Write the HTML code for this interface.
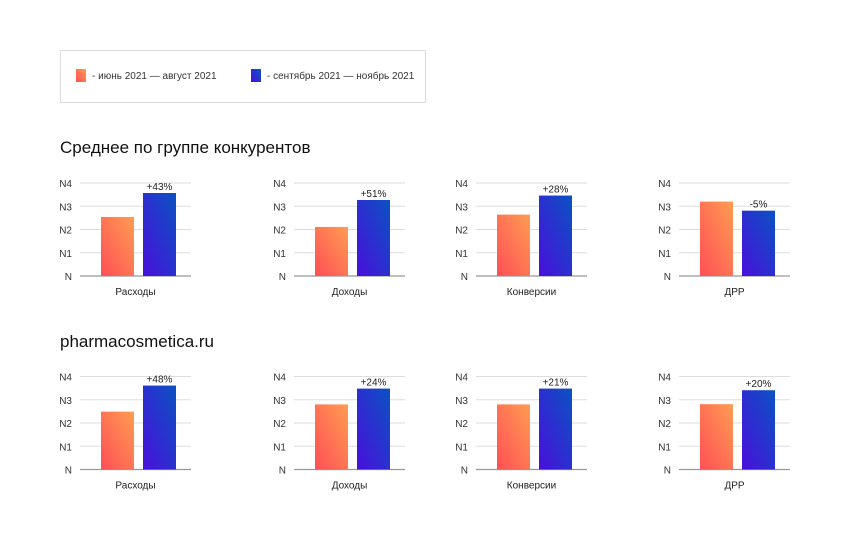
<!DOCTYPE html>
<html><head><meta charset="utf-8">
<style>
body{margin:0;background:#fff;}
#root{position:relative;width:850px;height:536px;overflow:hidden;font-family:"Liberation Sans","Noto Sans CJK SC",sans-serif;}
</style></head>
<body>
<div id="root">
<svg id="svg" width="850" height="536">
<defs>
<linearGradient id="gOr" x1="0" y1="1" x2="1" y2="0"><stop offset="0" stop-color="#ff4f55"/><stop offset="1" stop-color="#ff9c52"/></linearGradient>
<linearGradient id="gBl" x1="0" y1="1" x2="1" y2="0"><stop offset="0" stop-color="#4a0fdc"/><stop offset="1" stop-color="#0a52c2"/></linearGradient>
</defs>
<rect x="60.5" y="50.5" width="365" height="52" fill="#fff" stroke="#ddd"/>
<rect x="76" y="69" width="10" height="13" fill="url(#gOr)"/>
<text x="92" y="79" font-size="10" fill="#333">- июнь 2021 — август 2021</text>
<rect x="251" y="69" width="10" height="13" fill="url(#gBl)"/>
<text x="267" y="79" font-size="10" fill="#333">- сентябрь 2021 — ноябрь 2021</text>
<text x="60" y="153" font-size="17" fill="#111">Среднее по группе конкурентов</text>
<text x="60" y="347" font-size="17" fill="#111">pharmacosmetica.ru</text>
</svg>
</div>
<script>
const categories = ["Расходы","Доходы","Конверсии","ДРР"];
const tickLabels = ["N","N1","N2","N3","N4"];
const row1Before = [2.54, 2.11, 2.64, 3.2];
const row1After = [3.57, 3.27, 3.46, 2.81];
const row1Labels = ["+43%","+51%","+28%","-5%"];
const row2Before = [2.49, 2.8, 2.8, 2.81];
const row2After = [3.61, 3.48, 3.48, 3.41];
const row2Labels = ["+48%","+24%","+21%","+20%"];

const svg = document.getElementById('svg');
const NS = 'http://www.w3.org/2000/svg';
const gridX = [80, 294, 476, 679];
const rows = [
  {base:276, before:row1Before, after:row1After, labels:row1Labels, name:'competitors'},
  {base:469.5, before:row2Before, after:row2After, labels:row2Labels, name:'site'}
];
const unit = 23.25, gridW = 111;
function y(v, base){ return base - v*unit; }
function mk(tag, attrs){ const e=document.createElementNS(NS,tag); for(const k in attrs) e.setAttribute(k, attrs[k]); svg.appendChild(e); return e; }

rows.forEach((r)=>{
  categories.forEach((c,i)=>{
    const gx = gridX[i];
    tickLabels.forEach((t,k)=>{
      const yy = y(k, r.base);
      const ln = mk('line',{x1:gx,x2:gx+gridW,y1:yy,y2:yy,stroke:k===0?'#999':'#ddd','stroke-width':k===0?1.3:1});
      
      
      const tx = mk('text',{x:gx-8,y:yy+4,'font-size':10,fill:'#333','text-anchor':'end'});
      tx.textContent = t;
      
      
    });
    const b1 = mk('rect',{x:gx+21,y:y(r.before[i],r.base),width:33,height:r.before[i]*unit,fill:'url(#gOr)'});
    
    
    const b2 = mk('rect',{x:gx+63,y:y(r.after[i],r.base),width:33,height:r.after[i]*unit,fill:'url(#gBl)'});
    
    
    const lb = mk('text',{x:gx+79.5,y:y(r.after[i],r.base)-3,'font-size':10,fill:'#222','text-anchor':'middle'});
    lb.textContent = r.labels[i];
    
    
    const cl = mk('text',{x:gx+55.5,y:r.base+19,'font-size':10,fill:'#222','text-anchor':'middle'});
    cl.textContent = c;
    
    
  });
});
</script>
</body></html>
